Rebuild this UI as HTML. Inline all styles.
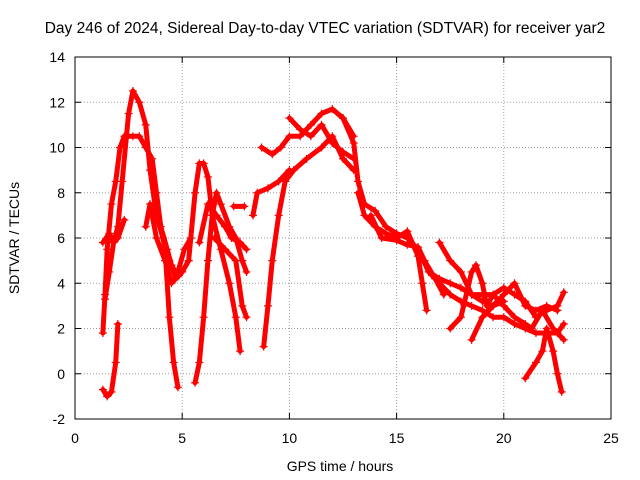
<!DOCTYPE html>
<html><head><meta charset="utf-8"><style>
body{margin:0;background:#fff;}
svg{display:block;font-family:"Liberation Sans",sans-serif;}
</style></head><body>
<svg id="chart" width="640" height="480" viewBox="0 0 640 480" xmlns="http://www.w3.org/2000/svg">
<rect width="640" height="480" fill="#fff"/>
<text x="325" y="33" font-size="15.5" text-anchor="middle">Day 246 of 2024, Sidereal Day-to-day VTEC variation (SDTVAR) for receiver yar2</text>
<g id="grid"></g>
<g id="series"></g>
<rect x="75" y="57" width="536" height="362" fill="none" stroke="#000" stroke-width="1"/>
<g id="ticks"></g>
<text x="340" y="471" font-size="14" text-anchor="middle">GPS time / hours</text>
<text transform="translate(19,238) rotate(-90)" font-size="14" text-anchor="middle">SDTVAR / TECUs</text>
</svg>
<script>
const xTicks=[0,5,10,15,20,25];
const yTicks=[-2,0,2,4,6,8,10,12,14];
const s1=[[1.3,-0.7],[1.5,-1.0],[1.7,-0.8],[1.9,0.5],[2.0,2.2]];
const s2=[[1.3,1.8],[1.4,3.5],[1.5,5.5],[1.7,7.5],[1.9,8.5],[2.1,10],[2.3,10.5],[2.7,10.5],[3.0,10.5],[3.3,10.0],[3.6,9.5],[3.8,8],[4.0,6.5],[4.3,5.5],[4.5,4.8],[4.8,4.3],[5.0,4.5],[5.3,5.0]];
const s3=[[1.4,3.3],[1.6,4.5],[1.8,5.8],[2.0,6.5],[2.2,8.5],[2.5,11.5],[2.7,12.5],[3.0,12.0],[3.3,11],[3.5,9],[3.8,7],[4.1,6],[4.4,5],[4.7,4.2],[5.0,4.5]];
const s4=[[1.3,5.8],[1.6,6.2],[1.8,5.8],[2.0,6.0],[2.3,6.8]];
const s5=[[3.8,7.5],[4.2,5.5],[4.4,2.5],[4.6,0.5],[4.8,-0.6]];
const s6=[[3.3,6.5],[3.5,7.5],[3.8,6.0],[4.2,5.0],[4.5,4.0],[4.8,4.5],[5.1,5.5],[5.4,6.0]];
const s7=[[5.6,-0.4],[5.8,0.5],[6.0,2.5],[6.2,5],[6.4,7],[6.6,8],[6.8,7.5],[7.2,6.5],[7.5,6],[7.8,5],[8.0,4.5]];
const s8=[[5.3,5.0],[5.6,8],[5.8,9.3],[6.0,9.3],[6.2,8.7],[6.4,7],[6.8,5.5],[7.2,4],[7.5,2.5],[7.7,1.0]];
const s9=[[5.8,5.8],[6.2,7.5],[6.6,7.0],[7,6.5],[7.3,6.0],[7.7,5.8],[8.0,5.5]];
const s10=[[6.5,6],[7,5.5],[7.5,5],[7.8,3],[8.0,2.5]];
const s11=[[7.4,7.4],[7.9,7.4]];
const s12=[[8.8,1.2],[9.0,3.0],[9.2,5],[9.5,7],[9.8,8.5],[10.2,9.0],[10.8,9.5],[11.5,10],[12,10.5],[12.5,9.5],[13,9.0]];
const s13=[[8.3,7.0],[8.5,8.0],[9,8.2],[9.5,8.5],[10,9]];
const s14=[[8.7,10],[9.2,9.7],[9.6,10],[10,10.5],[10.5,10.5],[11,11],[11.5,11.5],[12,11.7],[12.5,11.3],[13,10.5]];
const s15=[[10,11.3],[10.5,10.8],[11,10.5],[11.5,11],[12,10.2],[12.5,9.8],[13,9.5]];
const s16=[[12.5,11.3],[13,10.2],[13.2,8.5],[13.5,7.5],[14,7.2],[14.5,6.5],[15,6.2],[15.5,6],[16,5.5],[16.5,4.5],[17,4.2],[17.5,4],[18,3.8],[18.5,3.5],[19,3.2],[19.5,3],[20,3.2]];
const s17=[[13.2,8],[13.5,7],[14,6.5],[14.5,6.2],[15,6],[15.5,6.3],[16,5.2],[16.2,4],[16.4,2.8]];
const s18=[[13.8,7],[14.3,6],[15,5.9],[15.5,5.7],[16,5.6],[16.3,5.0],[16.8,4.2],[17.2,3.5]];
const s19=[[17,5.8],[17.5,5],[18,4.5],[18.5,3.5],[19,3.5],[19.5,3.5],[20,3.8],[20.5,3.5],[21,3.2],[21.5,2.5],[22,2.8],[22.5,3.0],[22.8,3.6]];
const s20=[[17.5,2],[18,2.5],[18.5,4.5],[18.7,4.8],[19,4],[19.2,3],[19.5,3.5],[20,3],[20.5,2.5],[21,2.2],[21.3,2.0],[21.8,2.8],[22.3,2.0],[22.8,1.5]];
const s21=[[18.5,1.5],[19,2.5],[19.5,3],[20,3.5],[20.5,4],[21,3],[21.5,2.8],[22,3.0],[22.5,2.8]];
const s22=[[21.0,-0.2],[21.5,0.5],[21.8,1.0],[22.0,2.0],[22.3,1.0],[22.5,0],[22.7,-0.8]];
const s23=[[16.5,4.5],[17,4],[17.5,3.5],[18,3.2],[18.5,3.0],[19,2.8],[19.5,2.5],[20,2.5],[20.5,2.2],[21,2.0],[21.5,1.8],[22,1.8],[22.5,1.8],[22.8,2.2]];
const allSeries=[s1,s2,s3,s4,s5,s6,s7,s8,s9,s10,s11,s12,s13,s14,s15,s16,s17,s18,s19,s20,s21,s22,s23];

const X0=75,X1=611,Y0=419,Y1=57,xMin=0,xMax=25,yMin=-2,yMax=14;
function xs(v){return X0+(v-xMin)/(xMax-xMin)*(X1-X0);}
function ys(v){return Y0-(v-yMin)/(yMax-yMin)*(Y0-Y1);}
const NS="http://www.w3.org/2000/svg";
const grid=document.getElementById('grid'),ticks=document.getElementById('ticks'),ser=document.getElementById('series');
function mk(tag,attrs,parent){const e=document.createElementNS(NS,tag);for(const k in attrs)e.setAttribute(k,attrs[k]);parent.appendChild(e);return e;}
xTicks.forEach(t=>{
  const x=xs(t);
  if(t>xMin&&t<xMax){const g=mk('line',{x1:x,x2:x,y1:Y0,y2:Y1,stroke:'#a0a0a0','stroke-dasharray':'1,2'},grid);
  
  }
  mk('line',{x1:x,x2:x,y1:Y0,y2:Y0-6,stroke:'#000'},ticks);
  mk('line',{x1:x,x2:x,y1:Y1,y2:Y1+6,stroke:'#000'},ticks);
  const l=mk('text',{x:x,y:Y0+24,'font-size':14,'text-anchor':'middle'},ticks);l.textContent=t;
  
  
});
yTicks.forEach(t=>{
  const y=ys(t);
  if(t>yMin&&t<yMax){const g=mk('line',{x1:X0,x2:X1,y1:y,y2:y,stroke:'#a0a0a0','stroke-dasharray':'1,2'},grid);
  
  }
  mk('line',{x1:X0,x2:X0+6,y1:y,y2:y,stroke:'#000'},ticks);
  mk('line',{x1:X1,x2:X1-6,y1:y,y2:y,stroke:'#000'},ticks);
  const l=mk('text',{x:X0-10,y:y+5,'font-size':14,'text-anchor':'end'},ticks);l.textContent=t;
  
  
});
allSeries.forEach((s,i)=>{
  const pts=s.map(p=>xs(p[0])+','+ys(p[1])).join(' ');
  const pl=mk('polyline',{points:pts,fill:'none',stroke:'#ff0000','stroke-width':5,'stroke-linejoin':'round','stroke-linecap':'round'},ser);
  
  
  s.forEach(p=>{
    const x=xs(p[0]),y=ys(p[1]);
    const m=mk('path',{d:`M${x-4},${y}H${x+4}M${x},${y-4}V${y+4}`,stroke:'#ff0000','stroke-width':1.2},ser);
    
    
  });
});
</script>
</body></html>
